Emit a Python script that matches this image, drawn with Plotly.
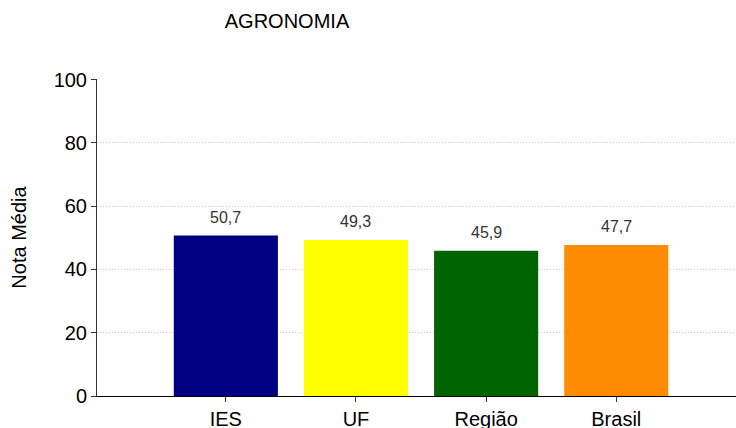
import plotly.graph_objects as go

categorias = ['IES', 'UF', 'Região', 'Brasil']
notas = [50.7, 49.3, 45.9, 47.7]
rotulos = ['50,7', '49,3', '45,9', '47,7']
cores = ['#000080', '#FFFF00', '#006400', '#FF8C00']

fig = go.Figure(go.Bar(
    x=categorias,
    y=notas,
    marker=dict(color=cores, line=dict(width=0)),
    width=0.8,
    hoverinfo='skip',
))

# rótulos de valor acima das barras
for cat, val, rot in zip(categorias, notas, rotulos):
    fig.add_annotation(x=cat, y=val, text=rot, showarrow=False,
                       yanchor='bottom', yshift=8,
                       font=dict(size=16, color='#333333'))

fig.update_layout(
    template='plotly_white',
    width=736,
    height=428,
    font=dict(family='Liberation Sans, Arial, sans-serif', color='black'),
    title=dict(text='AGRONOMIA', x=287 / 736, xanchor='center', y=1 - 21 / 428, yanchor='middle',
               font=dict(size=20, color='black')),
    margin=dict(t=79, l=97, r=0, b=32, autoexpand=False),
    showlegend=False,
    plot_bgcolor='white',
    paper_bgcolor='white',
)

fig.update_xaxes(
    range=[-0.99, 3.92],
    showline=True, linecolor='black', linewidth=1,
    ticks='outside', ticklen=5, tickcolor='#333333',
    showgrid=False,
    tickfont=dict(size=20),
    automargin=False,
)

fig.update_yaxes(
    range=[0, 100.2],
    tickvals=[0, 20, 40, 60, 80, 100],
    showline=True, linecolor='#333333', linewidth=1,
    ticks='outside', ticklen=5, tickcolor='#333333',
    gridcolor='#FFB6C8', griddash='1px,2px', gridwidth=1,
    zeroline=False,
    tickfont=dict(size=20),
    title=dict(text='Nota Média', font=dict(size=20), standoff=21),
    automargin=False,
)

fig.write_html("out.html", config={'displayModeBar': False},
               post_script="document.body.style.margin='0';"
                           "document.documentElement.style.overflow='hidden';"
                           "document.body.style.overflow='hidden';")
